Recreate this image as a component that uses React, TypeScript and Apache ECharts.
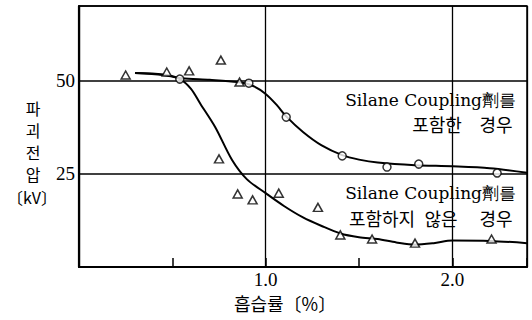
import React, { useEffect, useRef } from "react";
import * as echarts from "echarts";

// Measured points: moisture absorption (%) vs breakdown voltage (kV)
const withoutSilaneX = [0.25, 0.47, 0.59, 0.76, 0.86, 0.75, 0.85, 0.93, 1.07, 1.28, 1.4, 1.57, 1.8, 2.21];
const withoutSilaneY = [51.5, 52.3, 52.6, 55.5, 49.6, 29.0, 19.6, 18.0, 19.8, 16.0, 8.6, 7.5, 6.4, 7.5];

const withSilaneX = [0.54, 0.91, 1.11, 1.41, 1.65, 1.82, 2.24];
const withSilaneY = [50.4, 49.3, 40.2, 29.8, 26.8, 27.6, 25.2];

// Hand-drawn trend curves
const withSilaneCurveX = [0.3, 0.45, 0.55, 0.7, 0.85, 0.93, 1.0, 1.06, 1.11, 1.2, 1.3, 1.41, 1.5, 1.6, 1.8, 2.0, 2.2, 2.4];
const withSilaneCurveY = [52.0, 51.5, 50.6, 50.2, 49.6, 48.6, 46.4, 43.4, 40.4, 36.2, 32.6, 30.0, 28.8, 28.0, 27.3, 27.0, 26.5, 25.3];

const withoutSilaneCurveX = [0.3, 0.45, 0.54, 0.6, 0.65, 0.73, 0.82, 0.9, 1.0, 1.1, 1.2, 1.3, 1.4, 1.5, 1.6, 1.7, 1.8, 1.9, 2.0, 2.2, 2.4];
const withoutSilaneCurveY = [52.0, 51.6, 50.4, 47.8, 43.8, 37.5, 28.7, 23.5, 19.8, 16.3, 13.3, 11.0, 9.0, 8.0, 7.5, 6.6, 6.0, 6.4, 7.1, 7.0, 6.4];

const xTickLabels = ["1.0", "2.0"];
const yTickLabels = ["25", "50"];

const yTitleChars = ["파", "괴", "전", "압"];
const yTitleUnit = "〔kV〕";
const xTitle = "흡습률〔%〕";
const label1Head = "Silane Coupling劑를";
const label1Words = ["포함한", "경우"];
const label2Head = "Silane Coupling劑를";
const label2Words = ["포함하지", "않은", "경우"];

const SERIF = "Liberation Serif";
const SERIF_WIDE = "DejaVu Serif";
const KR = "Noto Sans CJK KR";

function zip(xs: number[], ys: number[]) {
  return xs.map((x, i) => [x, ys[i]]);
}

export default function App() {
  const ref = useRef<HTMLDivElement>(null);
  useEffect(() => {
    if (!ref.current) return;
    const chart = echarts.init(ref.current, undefined, { renderer: "svg" });
    const txt = (text: string, x: number, y: number, size: number, font: string, align = "center") => ({
      type: "text",
      x,
      y,
      style: { text, fontSize: size, fontFamily: font, fill: "#000", align, verticalAlign: "middle" },
    });
    const graphics: any[] = [];
    const yPos = [108, 130, 152, 174];
    yTitleChars.forEach((c, i) => graphics.push(txt(c, 33, yPos[i], 16, KR)));
    graphics.push(txt(yTitleUnit, 32, 197, 16, KR));
    graphics.push(txt(xTitle, 285, 303, 18, KR));
    graphics.push(txt(label1Head, 516, 100, 17, SERIF_WIDE, "right"));
    const w1 = [437, 496];
    label1Words.forEach((w, i) => graphics.push(txt(w, w1[i], 124, 18, KR)));
    graphics.push(txt(label2Head, 516, 193, 17, SERIF_WIDE, "right"));
    const w2 = [382, 441, 496];
    label2Words.forEach((w, i) => graphics.push(txt(w, w2[i], 218, 18, KR)));

    chart.setOption({
      animation: false,
      backgroundColor: "#fff",
      grid: { left: 79, right: 5, top: 6, bottom: 53, show: true, borderColor: "#000", borderWidth: 1.5, backgroundColor: "transparent" },
      xAxis: [
        {
          type: "value",
          min: 0,
          max: 2.4,
          interval: 1,
          axisLine: { show: true, lineStyle: { color: "#000", width: 2.2 } },
          axisTick: { show: false },
          axisLabel: {
            margin: 3,
            color: "#000",
            fontSize: 19,
            fontFamily: SERIF,
            formatter: (v: number) => {
              const s = v.toFixed(1);
              return xTickLabels.includes(s) ? s : "";
            },
          },
          splitLine: { show: true, lineStyle: { color: "#000", width: 1.3 } },
        },
        {
          type: "value",
          min: 0,
          max: 2.4,
          interval: 0.5,
          position: "bottom",
          axisLine: { show: false },
          axisTick: { show: true, inside: true, length: 9, lineStyle: { color: "#000", width: 1.5 } },
          axisLabel: { show: false },
          splitLine: { show: false },
        },
      ],
      yAxis: {
        type: "value",
        min: 0,
        max: 70,
        interval: 25,
        axisLine: { show: true, lineStyle: { color: "#000", width: 2.2 } },
        axisTick: { show: false },
        axisLabel: {
          margin: 4,
          color: "#000",
          fontSize: 19,
          fontFamily: SERIF,
          formatter: (v: number) => (yTickLabels.includes(String(v)) ? String(v) : ""),
        },
        splitLine: { show: true, lineStyle: { color: "#000", width: 1.5 } },
      },
      series: [
        {
          type: "line",
          data: zip(withSilaneCurveX, withSilaneCurveY),
          smooth: 0.3,
          showSymbol: false,
          lineStyle: { color: "#000", width: 2 },
          z: 2,
        },
        {
          type: "line",
          data: zip(withoutSilaneCurveX, withoutSilaneCurveY),
          smooth: 0.3,
          showSymbol: false,
          lineStyle: { color: "#000", width: 2 },
          z: 2,
        },
        {
          type: "scatter",
          data: zip(withSilaneX, withSilaneY),
          symbol: "circle",
          symbolSize: 8,
          itemStyle: { color: "#fff", borderColor: "#000", borderWidth: 1.5 },
          z: 3,
        },
        {
          type: "scatter",
          data: zip(withoutSilaneX, withoutSilaneY),
          symbol: "triangle",
          symbolSize: [9, 8],
          itemStyle: { color: "#fff", borderColor: "#000", borderWidth: 1.5 },
          z: 3,
        },
      ],
      graphic: graphics,
    });
    return () => chart.dispose();
  }, []);
  return <div ref={ref} style={{ width: 532, height: 320, position: "absolute", left: 0, top: 0 }} />;
}
